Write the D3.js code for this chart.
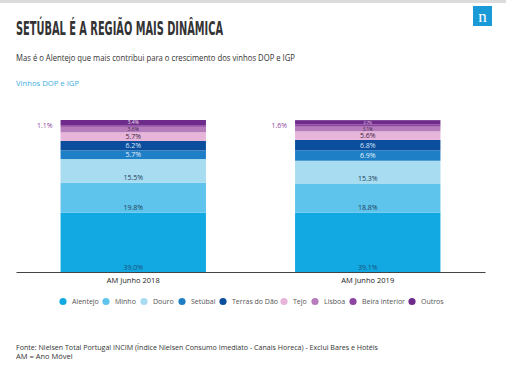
<!DOCTYPE html>
<html><head><meta charset="utf-8">
<script src="https://cdn.jsdelivr.net/npm/d3@7"></script>
<style>
body{margin:0;background:#fff;}
svg{display:block;font-family:"Open Sans","Noto Sans",sans-serif;}
</style></head><body>
<svg id="c" width="506" height="382"></svg>
<script>
const categories = ["AM Junho 2018", "AM Junho 2019"];
const regions = ["Alentejo","Minho","Douro","Setúbal","Terras do Dão","Tejo","Lisboa","Beira interior","Outros"];
const values2018 = [39.0, 19.8, 15.5, 5.7, 6.2, 5.7, 3.6, 1.1, 3.4];
const values2019 = [39.1, 18.8, 15.3, 6.9, 6.8, 5.6, 3.1, 1.6, 2.7];
const colors = ["#12a9e3","#5ec4ec","#a8dcf1","#1f7fc6","#0c4e9e","#e7b5da","#b67cbc","#8e45a0","#6e2b8b"];
const labelColors = ["#1d4f7a","#1d3f5a","#1d3f5a","#e6f2fb","#d6e6f7","#3a2540","#3a2540","#8e45a0","#efe0f2"];

const svg = d3.select("#c");
svg.append("rect").attr("x",0).attr("y",0).attr("width",506).attr("height",3).attr("fill","#dcdcdc");
svg.append("rect").attr("x",473).attr("y",6).attr("width",19).attr("height",20).attr("fill","#1b9ad8");
svg.append("text").attr("x",482.5).attr("y",22).attr("text-anchor","middle").attr("fill","#fff")
  .attr("font-family","Liberation Serif, serif").attr("font-size",17).text("n");

svg.append("text").attr("x",16).attr("y",35).attr("fill","#333")
  .attr("font-family","'Liberation Sans Narrow','DejaVu Sans Condensed',sans-serif").attr("font-weight","bold")
  .attr("font-size",19.5).attr("textLength",207).attr("lengthAdjust","spacingAndGlyphs")
  .text("SETÚBAL É A REGIÃO MAIS DINÂMICA");
svg.append("text").attr("x",16).attr("y",61).attr("fill","#333").attr("font-size",8.2)
  .attr("textLength",279).attr("lengthAdjust","spacingAndGlyphs")
  .text("Mas é o Alentejo que mais contribui para o crescimento dos vinhos DOP e IGP");
svg.append("text").attr("x",16).attr("y",86).attr("fill","#3aaee0").attr("font-size",8)
  .attr("textLength",63).attr("lengthAdjust","spacingAndGlyphs")
  .text("Vinhos DOP e IGP");

const x = d3.scaleBand().domain(categories).range([16,485]).paddingInner(0.38).paddingOuter(0.19);
const y = d3.scaleLinear().domain([0,100]).range([272,120]);
const series = [values2018, values2019];

categories.forEach((cat,ci)=>{
  let acc = 0;
  const segs = series[ci].map((v,i)=>{const s={i,v,y0:acc,y1:acc+v,h:y(acc)-y(acc+v)}; acc+=v; return s;});
  const g = svg.append("g");
  g.selectAll("rect").data(segs).join("rect")
    .attr("x",x(cat)).attr("width",x.bandwidth())
    .attr("y",d=>y(d.y1)).attr("height",d=>d.h)
    .attr("fill",d=>colors[d.i]);
  const fs = d => d.i===7 ? 7 : Math.min(7, d.h*0.95);
  g.selectAll("text").data(segs).join("text")
    .attr("x",d=> d.i===7 ? x(cat)-8 : x(cat)+x.bandwidth()/2)
    .attr("y",d=> d.i===7 ? y(d.y0)+1 : d.h<12 ? (y(d.y0)+y(d.y1))/2 + fs(d)*0.36 : y(d.y0)-2.5)
    .attr("text-anchor",d=> d.i===7 ? "end":"middle")
    .attr("font-size",fs).attr("fill",d=>labelColors[d.i])
    .text(d=>d.v.toFixed(1)+"%");
});

const axis = svg.append("g").attr("transform","translate(0,272)").call(d3.axisBottom(x).tickSize(0).tickPadding(6));
axis.select(".domain").attr("stroke","#444").attr("stroke-width",1.2);
axis.selectAll("text").attr("font-size",7.5).attr("fill","#222").attr("font-family","'Open Sans',sans-serif");

const legendX = [63,106,144,182,223,284,315,353,412];
const lg = svg.append("g");
regions.forEach((r,i)=>{
  lg.append("circle").attr("cx",legendX[i]).attr("cy",301.5).attr("r",3.6).attr("fill",colors[i]);
  lg.append("text").attr("x",legendX[i]+9).attr("y",304).attr("font-size",7).attr("fill","#555").text(r);
});

svg.append("text").attr("x",16).attr("y",349.5).attr("font-size",7.5).attr("fill","#333")
  .attr("textLength",362).attr("lengthAdjust","spacingAndGlyphs")
  .text("Fonte: Nielsen Total Portugal INCIM (Índice Nielsen Consumo Imediato - Canais Horeca) - Exclui Bares e Hotéis");
svg.append("text").attr("x",16).attr("y",359).attr("font-size",7.5).attr("fill","#333").text("AM = Ano Móvel");
</script>
</body></html>
